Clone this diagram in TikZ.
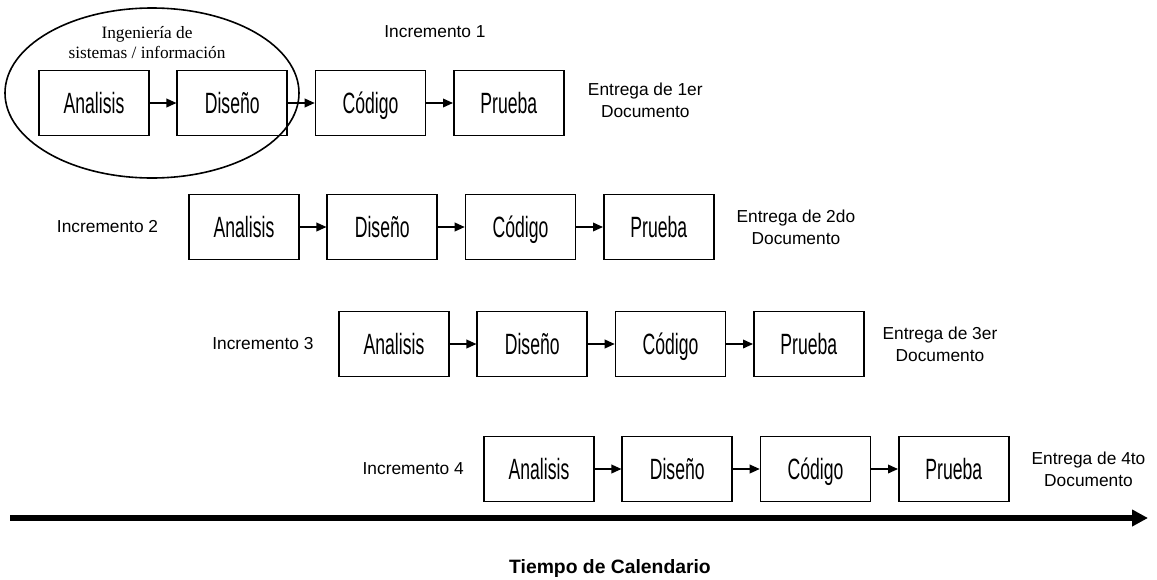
\documentclass[tikz,border=0pt]{standalone}
\usepackage{fontspec}
\setmainfont{Liberation Sans}
\newfontfamily\fasefont[FakeStretch=0.6]{Liberation Sans}
\newfontfamily\notafont{Liberation Serif}
\usepackage{tikz}
\usetikzlibrary{
	positioning,
	arrows.meta
}

\begin{document}
\begin{tikzpicture}[
		x=0.75pt, y=-0.75pt,
		node distance=20pt,
		fase/.style={draw, line width=1.2pt, minimum width=82.5pt, minimum height=49pt,
			inner sep=0pt, text height=16pt, text depth=0pt,
			font=\fasefont\fontsize{22}{24}\selectfont},
		flecha/.style={line width=1.1pt, -{Triangle[length=7.5pt,width=6.5pt]}},
		rotulo/.style={font=\fontsize{13}{16.5}\selectfont},
		entrega/.style={rotulo, align=center}
	]
		\useasboundingbox (0,0) rectangle (1157,579);

		% ingenieria de sistemas
		\draw[line width=1.2pt] (152,93) ellipse [x radius=110.25pt, y radius=63.75pt];
		\node[font=\notafont\fontsize{13}{15}\selectfont, align=center] (ing) at (147,43)
			{Ingeniería de\\sistemas / información};

		% incremento 1
		\draw
			node[rotulo]                  (inc1) at (435,32) {Incremento 1}
			node[fase]                    (an1) at (94,103)  {Analisis}
			node[fase,right=of an1]       (di1) {Diseño}
			node[fase,right=of di1]       (co1) {Código}
			node[fase,right=of co1]       (pr1) {Prueba}
			node[entrega,right=14pt of pr1,yshift=2pt] (en1) {Entrega de 1er\\Documento}

			(an1) edge[flecha] (di1)
			(di1) edge[flecha] (co1)
			(co1) edge[flecha] (pr1)
		;

		% incremento 2
		\draw
			node[fase]                    (an2) at (244,227) {Analisis}
			node[rotulo,left=19pt of an2] (inc2) {Incremento 2}
			node[fase,right=of an2]       (di2) {Diseño}
			node[fase,right=of di2]       (co2) {Código}
			node[fase,right=of co2]       (pr2) {Prueba}
			node[entrega,right=13pt of pr2] (en2) {Entrega de 2do\\Documento}

			(an2) edge[flecha] (di2)
			(di2) edge[flecha] (co2)
			(co2) edge[flecha] (pr2)
		;

		% incremento 3
		\draw
			node[fase]                    (an3) at (394,344) {Analisis}
			node[rotulo,left=15pt of an3] (inc3) {Incremento 3}
			node[fase,right=of an3]       (di3) {Diseño}
			node[fase,right=of di3]       (co3) {Código}
			node[fase,right=of co3]       (pr3) {Prueba}
			node[entrega,right=10pt of pr3] (en3) {Entrega de 3er\\Documento}

			(an3) edge[flecha] (di3)
			(di3) edge[flecha] (co3)
			(co3) edge[flecha] (pr3)
		;

		% incremento 4
		\draw
			node[fase]                    (an4) at (539,469) {Analisis}
			node[rotulo,left=11pt of an4] (inc4) {Incremento 4}
			node[fase,right=of an4]       (di4) {Diseño}
			node[fase,right=of di4]       (co4) {Código}
			node[fase,right=of co4]       (pr4) {Prueba}
			node[entrega,right=13pt of pr4] (en4) {Entrega de 4to\\Documento}

			(an4) edge[flecha] (di4)
			(di4) edge[flecha] (co4)
			(co4) edge[flecha] (pr4)
		;

		% tiempo
		\coordinate (t0) at (10,518);
		\coordinate (t1) at (1148,518);
		\draw[line width=5pt, -{Triangle[length=12pt,width=12pt]}] (t0) -- (t1);
		\node[font=\bfseries\fontsize{14.5}{16}\selectfont, anchor=base] (tiempo) at (610,573)
			{Tiempo de Calendario};
	\end{tikzpicture}
\end{document}
